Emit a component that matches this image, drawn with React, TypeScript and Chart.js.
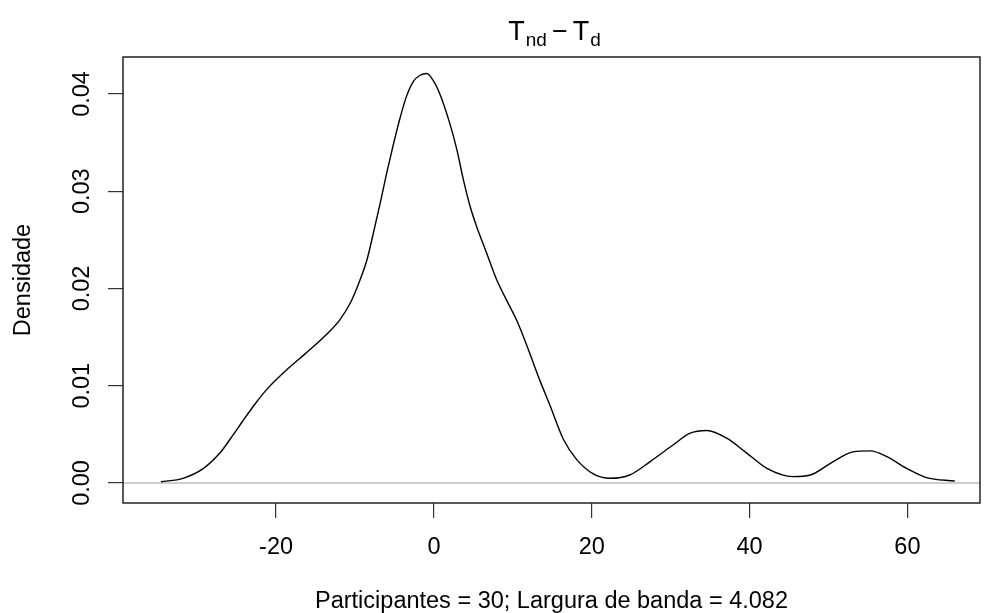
import React, { useEffect, useRef } from "react";
import { Chart, registerables } from "chart.js";

Chart.register(...registerables);

// Density curve (x = Tnd - Td, y = density)
const densityX = [
  -34.6, -31.8, -29.2, -27.1, -25.4, -24.2, -22.5, -21.2, -18.7, -17.0, -15.3, -13.2,
  -11.9, -10.6, -9.4, -8.5, -7.7, -6.8, -6.0, -5.2, -4.3, -3.5, -2.6, -1.8, -0.9, -0.1,
  0.8, 2.0, 2.9, 3.7, 4.6, 5.4, 6.7, 7.9, 9.2, 10.5, 11.7, 13.4, 14.7, 16.4, 18.1, 20.2,
  22.3, 24.8, 27.4, 30.3, 32.4, 34.6, 37.1, 39.6, 42.2, 45.5, 47.7, 50.6, 53.1, 55.3,
  57.4, 59.9, 62.4, 66.0,
];
const densityY = [
  0.00013, 0.00048, 0.0015, 0.0031, 0.0050, 0.0064, 0.0083, 0.0096, 0.0116, 0.0128, 0.014, 0.0156,
  0.0168, 0.0185, 0.0208, 0.0229, 0.0256, 0.0288, 0.0318, 0.0346, 0.0375, 0.0397, 0.0413, 0.0419, 0.0421, 0.0414,
  0.0399, 0.037, 0.0343, 0.0313, 0.0284, 0.0264, 0.0236, 0.0210, 0.0188, 0.0167, 0.0143, 0.0106, 0.0080, 0.0045, 0.0024, 0.00093,
  0.00048, 0.00082, 0.0022, 0.0039, 0.0051, 0.0054, 0.0046, 0.0031, 0.0015, 0.00065, 0.00082, 0.0022, 0.0032, 0.0033,
  0.0027, 0.0015, 0.00055, 0.0002,
];

const xTicks = [-20, 0, 20, 40, 60];
const yTicks = [0, 0.01, 0.02, 0.03, 0.04];
const xRange = [-39.4, 69.2];
const yRange = [-0.00206, 0.0438];
const zeroLineX = [xRange[0], xRange[1]];
const zeroLineY = [0, 0];

const titleParts = [
  { text: "T", sub: false },
  { text: "nd", sub: true },
  { text: "\u2212", sub: false },
  { text: "T", sub: false },
  { text: "d", sub: true },
];
const xAxisLabel = "Participantes = 30; Largura de banda = 4.082";
const yAxisLabel = "Densidade";

const FONT = '"Liberation Sans", Arial, sans-serif';

const mathTitlePlugin = {
  id: "mathTitle",
  afterDraw(chart: any) {
    const ctx = chart.ctx;
    const { left, right } = chart.chartArea;
    const cx = (left + right) / 2 + 3;
    const bigF = `27px ${FONT}`;
    const smallF = `19px ${FONT}`;
    const widths = titleParts.map((p) => {
      ctx.font = p.sub ? smallF : bigF;
      return ctx.measureText(p.text).width;
    });
    const gaps = [1, 5, 5, 1];
    const total = widths.reduce((a, b) => a + b, 0) + gaps.reduce((a, b) => a + b, 0);
    let x = cx - total / 2;
    const baseline = 40;
    ctx.save();
    ctx.fillStyle = "#000";
    ctx.textAlign = "left";
    ctx.textBaseline = "alphabetic";
    titleParts.forEach((p, i) => {
      ctx.font = p.sub ? smallF : bigF;
      ctx.fillText(p.text, x, p.sub ? baseline + 6 : baseline);
      x += widths[i] + (i < gaps.length ? gaps[i] : 0);
    });
    ctx.restore();
  },
};

const boxPlugin = {
  id: "boxPlugin",
  afterDatasetsDraw(chart: any) {
    const ctx = chart.ctx;
    const { left, right, top, bottom } = chart.chartArea;
    ctx.save();
    ctx.strokeStyle = "#222";
    ctx.lineWidth = 1.5;
    ctx.strokeRect(left, top, right - left, bottom - top);
    ctx.restore();
  },
};

export default function App() {
  const canvasRef = useRef<HTMLCanvasElement | null>(null);

  useEffect(() => {
    document.body.style.margin = "0";
    const canvas = canvasRef.current;
    if (!canvas) return;
    const tickFont = { family: FONT, size: 23.5 };
    const chart = new Chart(canvas, {
      type: "line",
      data: {
        datasets: [
          {
            data: densityX.map((x, i) => ({ x, y: densityY[i] })),
            borderColor: "#000",
            borderWidth: 1.4,
            pointRadius: 0,
            cubicInterpolationMode: "monotone",
            fill: false,
          },
          {
            data: zeroLineX.map((x, i) => ({ x, y: zeroLineY[i] })),
            borderColor: "#bebebe",
            borderWidth: 1.4,
            pointRadius: 0,
            fill: false,
          },
        ],
      },
      options: {
        animation: false,
        responsive: false,
        devicePixelRatio: 1,
        layout: { padding: { top: 57, right: 5, bottom: 0, left: 0 } },
        plugins: {
          legend: { display: false },
          tooltip: { enabled: false },
          title: { display: false },
        },
        scales: {
          x: {
            type: "linear",
            position: "bottom",
            min: xRange[0],
            max: xRange[1],
            afterBuildTicks: (s: any) => {
              s.ticks = xTicks.map((v) => ({ value: v }));
            },
            afterFit: (s: any) => {
              s.height = 110;
            },
            ticks: {
              autoSkip: false,
              maxRotation: 0,
              padding: 15,
              color: "#000",
              font: tickFont,
              callback: (v: any) => String(v),
            },
            grid: { drawOnChartArea: false, tickLength: 15, color: "#333", lineWidth: 1.2 },
            border: { display: false },
            title: {
              display: true,
              text: xAxisLabel,
              color: "#000",
              font: tickFont,
              padding: { top: 0, bottom: -3 },
            },
          },
          y: {
            type: "linear",
            position: "left",
            min: yRange[0],
            max: yRange[1],
            afterBuildTicks: (s: any) => {
              s.ticks = yTicks.map((v) => ({ value: v }));
            },
            afterFit: (s: any) => {
              s.width = 123;
            },
            ticks: {
              autoSkip: false,
              minRotation: 90,
              maxRotation: 90,
              crossAlign: "center",
              padding: 3,
              color: "#000",
              font: tickFont,
              callback: (v: any) => Number(v).toFixed(2),
            },
            grid: { drawOnChartArea: false, tickLength: 15, color: "#333", lineWidth: 1.2 },
            border: { display: false },
            title: {
              display: true,
              text: yAxisLabel,
              color: "#000",
              font: tickFont,
              padding: { top: 9.6, bottom: 0 },
            },
          },
        },
      },
      plugins: [mathTitlePlugin, boxPlugin],
    } as any);
    return () => chart.destroy();
  }, []);

  return (
    <div style={{ position: "fixed", left: 0, top: 0, width: 985, height: 613, background: "#fff" }}>
      <canvas ref={canvasRef} width={985} height={613} style={{ display: "block", width: 985, height: 613 }} />
    </div>
  );
}
